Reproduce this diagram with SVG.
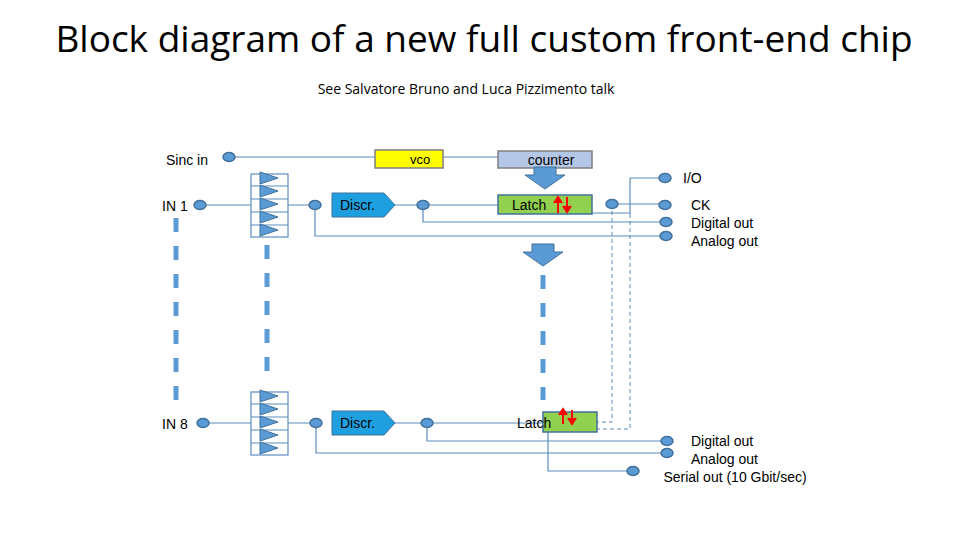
<svg xmlns="http://www.w3.org/2000/svg" width="960" height="540" viewBox="0 0 960 540">
<style>
text{font-family:"Liberation Sans",Arial,sans-serif;fill:#000}
.w{fill:none;stroke:#5b8cc0;stroke-width:1.2}
.d{fill:none;stroke:#5b8cc0;stroke-width:1;stroke-dasharray:4,3}
.t{fill:none;stroke:#5b9bd5;stroke-width:5;stroke-dasharray:14,14}
.dot{fill:#5b9bd5;stroke:#41719c;stroke-width:1.5}
.amp{fill:#5b9bd5;stroke:#41719c;stroke-width:1}
.lbl{font-size:14px}
</style>
<defs>
<ellipse id="p" rx="6" ry="4.5" class="dot"/>
<g id="stack">
<rect x="0" y="0" width="37" height="63" class="w"/>
<path d="M0 12H37M0 25H37M0 38H37M0 51H37" class="w"/>
<path d="M9 -2L27 4L9 10Z M9 11L27 17L9 23Z M9 24L27 30L9 36Z M9 37L27 43L9 49Z M9 50L27 56L9 62Z" class="amp"/>
</g>
<path id="darr" d="M-11 0H11V8H20L0 22L-20 8H-11Z" fill="#5b9bd5" stroke="#41719c"/>
</defs>
<text x="484" y="52" font-size="37" text-anchor="middle" style="font-family:'Open Sans','Liberation Sans',sans-serif">Block diagram  of a new full custom front-end chip</text>
<text x="466" y="94" font-size="14" text-anchor="middle" style="font-family:'Open Sans','Liberation Sans',sans-serif">See Salvatore Bruno and Luca Pizzimento talk</text>
<g id="connectors">
<path class="w" d="M229 157H375M443 157H498"/>
<path class="w" d="M200 205H251M288 205H315M315 205V236H666M395 205H423M423 205V222H666M423 205H498M612 204H665M592 213H630M630 178H665M630 178V214"/>
<path class="d" d="M612 204V422H597M630 214V429H597"/>
<path class="w" d="M203 423H251M288 423H316M316 423V453H667M395 423H427M427 423V441H667M427 423H543M548 432V471H633"/>
<path class="t" d="M176 218V400M267 245V385M543 275V400"/>
</g>
<g id="sinc"><text x="166" y="165" class="lbl">Sinc in</text><use href="#p" x="229" y="157"/></g>
<g id="vco"><rect x="375" y="150" width="68" height="18" fill="#ffff00" stroke="#7f7f7f" stroke-width="1.5"/><text x="420" y="164" font-size="13" text-anchor="middle">vco</text></g>
<g id="counter"><rect x="498" y="151" width="94" height="17" fill="#b4c7e7" stroke="#7f7f7f" stroke-width="1.5"/><text x="551" y="165" font-size="14" text-anchor="middle">counter</text><use href="#darr" x="545" y="167"/></g>
<g id="arrow2"><use href="#darr" x="543" y="244"/></g>
<g id="in1"><text x="162" y="211" class="lbl">IN 1</text><use href="#p" x="200" y="205"/><use href="#stack" x="251" y="174"/><use href="#p" x="315" y="205"/>
<path d="M332 193H384L395 205L384 217H332Z" fill="#1ea0e0" stroke="#41719c"/><text x="340" y="210" class="lbl">Discr.</text><use href="#p" x="423" y="205"/></g>
<g id="latch1"><rect x="498" y="195" width="94" height="19" fill="#92d050" stroke="#41719c" stroke-width="1.5"/><text x="512" y="210" class="lbl">Latch</text>
<path d="M558 213V200M554 203L558 197L562 203M567 197V210M563 206L567 212L571 206" stroke="#ff0000" stroke-width="2" fill="#ff0000"/><use href="#p" x="612" y="204"/></g>
<g id="io1"><use href="#p" x="665" y="178"/><use href="#p" x="665" y="205"/><use href="#p" x="666" y="222"/><use href="#p" x="666" y="236"/>
<text x="683" y="183" class="lbl">I/O</text><text x="691" y="210" class="lbl">CK</text><text x="691" y="228" class="lbl">Digital out</text><text x="691" y="246" class="lbl">Analog out</text></g>
<g id="in8"><text x="162" y="429" class="lbl">IN 8</text><use href="#p" x="203" y="423"/><use href="#stack" x="251" y="392"/><use href="#p" x="316" y="423"/>
<path d="M332 411H384L395 423L384 435H332Z" fill="#1ea0e0" stroke="#41719c"/><text x="340" y="428" class="lbl">Discr.</text><use href="#p" x="427" y="423"/></g>
<g id="latch8"><rect x="543" y="412" width="54" height="20" fill="#92d050" stroke="#41719c" stroke-width="1.5"/><text x="517" y="428" class="lbl">Latch</text>
<path d="M563 424V412M559 415L563 409L567 415M572 410V422M568 418L572 424L576 418" stroke="#ff0000" stroke-width="2" fill="#ff0000"/></g>
<g id="io8"><use href="#p" x="667" y="441"/><use href="#p" x="667" y="453"/><use href="#p" x="633" y="471"/>
<text x="691" y="446" class="lbl">Digital out</text><text x="691" y="464" class="lbl">Analog out</text><text x="735" y="482" class="lbl" text-anchor="middle">Serial out (10 Gbit/sec)</text></g>
</svg>
